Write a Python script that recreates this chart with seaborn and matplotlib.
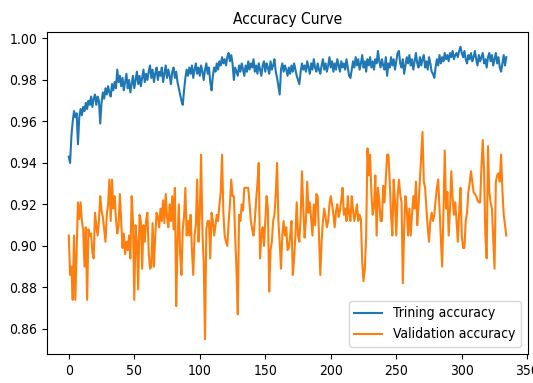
import numpy as np
import pandas as pd
import matplotlib
matplotlib.use('Agg')
import matplotlib.pyplot as plt
from matplotlib import font_manager
import seaborn as sns

# values, one per epoch
train_acc = [
    0.943, 0.940, 0.953, 0.960, 0.965, 0.962, 0.964, 0.949, 0.962, 0.966,
    0.963, 0.967, 0.965, 0.969, 0.966, 0.970, 0.968, 0.972, 0.967, 0.971,
    0.973, 0.968, 0.972, 0.970, 0.959, 0.969, 0.974, 0.971, 0.976, 0.973,
    0.977, 0.974, 0.972, 0.978, 0.975, 0.979, 0.976, 0.985, 0.979, 0.982,
    0.977, 0.981, 0.975, 0.979, 0.983, 0.976, 0.980, 0.974, 0.978, 0.982,
    0.976, 0.980, 0.984, 0.978, 0.982, 0.977, 0.981, 0.985, 0.979, 0.983,
    0.980, 0.984, 0.987, 0.981, 0.985, 0.979, 0.983, 0.986, 0.980, 0.984,
    0.982, 0.986, 0.979, 0.983, 0.987, 0.981, 0.985, 0.982, 0.978, 0.984,
    0.986, 0.981, 0.984, 0.979, 0.976, 0.973, 0.970, 0.968, 0.975, 0.981,
    0.985, 0.982, 0.986, 0.983, 0.987, 0.981, 0.985, 0.988, 0.983, 0.986,
    0.982, 0.987, 0.984, 0.980, 0.985, 0.988, 0.983, 0.986, 0.979, 0.975,
    0.982, 0.986, 0.984, 0.988, 0.985, 0.989, 0.987, 0.991, 0.988, 0.990,
    0.987, 0.991, 0.993, 0.989, 0.992, 0.988, 0.980, 0.986, 0.984, 0.982,
    0.987, 0.984, 0.988, 0.985, 0.982, 0.987, 0.984, 0.989, 0.985, 0.988,
    0.986, 0.990, 0.984, 0.987, 0.983, 0.988, 0.985, 0.982, 0.987, 0.989,
    0.984, 0.988, 0.986, 0.983, 0.989, 0.985, 0.987, 0.990, 0.984, 0.981,
    0.977, 0.973, 0.985, 0.988, 0.984, 0.987, 0.985, 0.982, 0.986, 0.983,
    0.987, 0.984, 0.988, 0.985, 0.982, 0.980, 0.978, 0.984, 0.988, 0.985,
    0.987, 0.984, 0.989, 0.986, 0.983, 0.988, 0.985, 0.990, 0.986, 0.984,
    0.988, 0.985, 0.983, 0.987, 0.990, 0.985, 0.988, 0.984, 0.987, 0.991,
    0.986, 0.989, 0.984, 0.988, 0.985, 0.990, 0.987, 0.984, 0.989, 0.986,
    0.988, 0.985, 0.990, 0.986, 0.982, 0.981, 0.985, 0.989, 0.986, 0.991,
    0.987, 0.990, 0.985, 0.988, 0.992, 0.986, 0.989, 0.984, 0.990, 0.987,
    0.991, 0.986, 0.989, 0.985, 0.990, 0.988, 0.994, 0.989, 0.986, 0.990,
    0.987, 0.985, 0.991, 0.982, 0.988, 0.986, 0.991, 0.987, 0.990, 0.985,
    0.989, 0.993, 0.994, 0.988, 0.986, 0.990, 0.983, 0.987, 0.991, 0.988,
    0.992, 0.987, 0.990, 0.985, 0.989, 0.993, 0.988, 0.986, 0.991, 0.987,
    0.990, 0.992, 0.986, 0.989, 0.985, 0.991, 0.988, 0.984, 0.983, 0.981,
    0.986, 0.990, 0.987, 0.992, 0.988, 0.991, 0.989, 0.993, 0.990, 0.992,
    0.989, 0.993, 0.991, 0.994, 0.990, 0.992, 0.993, 0.991, 0.994, 0.996,
    0.993, 0.991, 0.994, 0.990, 0.988, 0.992, 0.990, 0.993, 0.989, 0.991,
    0.994, 0.990, 0.987, 0.992, 0.989, 0.991, 0.993, 0.988, 0.990, 0.986,
    0.991, 0.993, 0.989, 0.992, 0.987, 0.990, 0.993, 0.988, 0.991, 0.986,
    0.984, 0.988, 0.992, 0.987, 0.991,
]

val_acc = [
    0.905, 0.886, 0.890, 0.874, 0.905, 0.874, 0.897, 0.921, 0.913, 0.921,
    0.912, 0.908, 0.890, 0.909, 0.874, 0.908, 0.905, 0.906, 0.897, 0.894,
    0.916, 0.910, 0.905, 0.912, 0.924, 0.917, 0.914, 0.908, 0.902, 0.915,
    0.920, 0.932, 0.912, 0.932, 0.918, 0.924, 0.913, 0.906, 0.910, 0.925,
    0.912, 0.899, 0.906, 0.896, 0.902, 0.898, 0.905, 0.894, 0.924, 0.912,
    0.874, 0.910, 0.902, 0.879, 0.915, 0.912, 0.889, 0.910, 0.902, 0.912,
    0.916, 0.897, 0.889, 0.890, 0.911, 0.890, 0.905, 0.916, 0.914, 0.909,
    0.918, 0.912, 0.922, 0.911, 0.925, 0.914, 0.909, 0.920, 0.912, 0.924,
    0.908, 0.928, 0.871, 0.902, 0.920, 0.896, 0.886, 0.908, 0.914, 0.928,
    0.905, 0.912, 0.905, 0.915, 0.898, 0.886, 0.905, 0.910, 0.932, 0.902,
    0.915, 0.944, 0.907, 0.892, 0.855, 0.908, 0.912, 0.912, 0.894, 0.916,
    0.912, 0.905, 0.910, 0.915, 0.912, 0.920, 0.926, 0.944, 0.916, 0.905,
    0.902, 0.900, 0.911, 0.920, 0.932, 0.924, 0.924, 0.905, 0.889, 0.867,
    0.915, 0.912, 0.920, 0.917, 0.928, 0.928, 0.928, 0.928, 0.920, 0.912,
    0.908, 0.905, 0.912, 0.922, 0.930, 0.940, 0.894, 0.905, 0.909, 0.900,
    0.912, 0.924, 0.918, 0.878, 0.898, 0.902, 0.912, 0.915, 0.925, 0.940,
    0.912, 0.902, 0.889, 0.905, 0.912, 0.905, 0.909, 0.898, 0.899, 0.905,
    0.912, 0.886, 0.894, 0.905, 0.921, 0.905, 0.902, 0.914, 0.936, 0.918,
    0.904, 0.912, 0.931, 0.916, 0.921, 0.913, 0.905, 0.920, 0.910, 0.925,
    0.924, 0.905, 0.886, 0.902, 0.912, 0.918, 0.914, 0.909, 0.912, 0.920,
    0.924, 0.920, 0.915, 0.909, 0.917, 0.920, 0.914, 0.917, 0.922, 0.928,
    0.915, 0.918, 0.912, 0.924, 0.915, 0.912, 0.924, 0.917, 0.912, 0.916,
    0.920, 0.912, 0.915, 0.913, 0.892, 0.883, 0.889, 0.905, 0.947, 0.934,
    0.944, 0.925, 0.915, 0.919, 0.934, 0.905, 0.928, 0.922, 0.912, 0.912,
    0.929, 0.921, 0.932, 0.944, 0.944, 0.931, 0.915, 0.905, 0.932, 0.921,
    0.905, 0.924, 0.932, 0.925, 0.921, 0.882, 0.908, 0.924, 0.918, 0.905,
    0.918, 0.905, 0.915, 0.924, 0.918, 0.931, 0.910, 0.920, 0.932, 0.945,
    0.955, 0.931, 0.928, 0.918, 0.909, 0.902, 0.912, 0.916, 0.912, 0.915,
    0.922, 0.928, 0.932, 0.918, 0.905, 0.890, 0.916, 0.946, 0.918, 0.926,
    0.905, 0.918, 0.936, 0.923, 0.915, 0.921, 0.912, 0.902, 0.916, 0.928,
    0.905, 0.899, 0.899, 0.912, 0.916, 0.926, 0.930, 0.936, 0.931, 0.926,
    0.925, 0.924, 0.922, 0.921, 0.921, 0.938, 0.951, 0.937, 0.905, 0.894,
    0.948, 0.926, 0.921, 0.918, 0.904, 0.889, 0.931, 0.934, 0.935, 0.931,
    0.944, 0.927, 0.915, 0.910, 0.905,
]

epochs = list(range(len(train_acc)))

df = pd.DataFrame({'epoch': epochs, 'train': train_acc, 'val': val_acc})

# the reference text is tall and narrow, use the condensed face if it is there
has_condensed = any(f.name == 'DejaVu Sans' and f.stretch == 'condensed'
                    for f in font_manager.fontManager.ttflist)
plt.rcParams['font.family'] = ['DejaVu Sans']
if has_condensed:
    plt.rcParams['font.stretch'] = 'condensed'
    plt.rcParams['font.size'] = 10
else:
    plt.rcParams['font.size'] = 9.2

fig, ax = plt.subplots(figsize=(5.33, 3.83), dpi=100)
fig.subplots_adjust(left=0.088, right=0.991, top=0.916, bottom=0.076)

sns.lineplot(data=df, x='epoch', y='train', ax=ax, color='#1f77b4', linewidth=1.5, label='Trining accuracy')
sns.lineplot(data=df, x='epoch', y='val', ax=ax, color='#ff7f0e', linewidth=1.5, label='Validation accuracy')

ax.set_title('Accuracy Curve', fontsize=plt.rcParams['font.size'] * 1.12)
ax.set_xlabel('')
ax.set_ylabel('')
ax.legend(loc='lower right')

fig.savefig('out.png', dpi=100)
